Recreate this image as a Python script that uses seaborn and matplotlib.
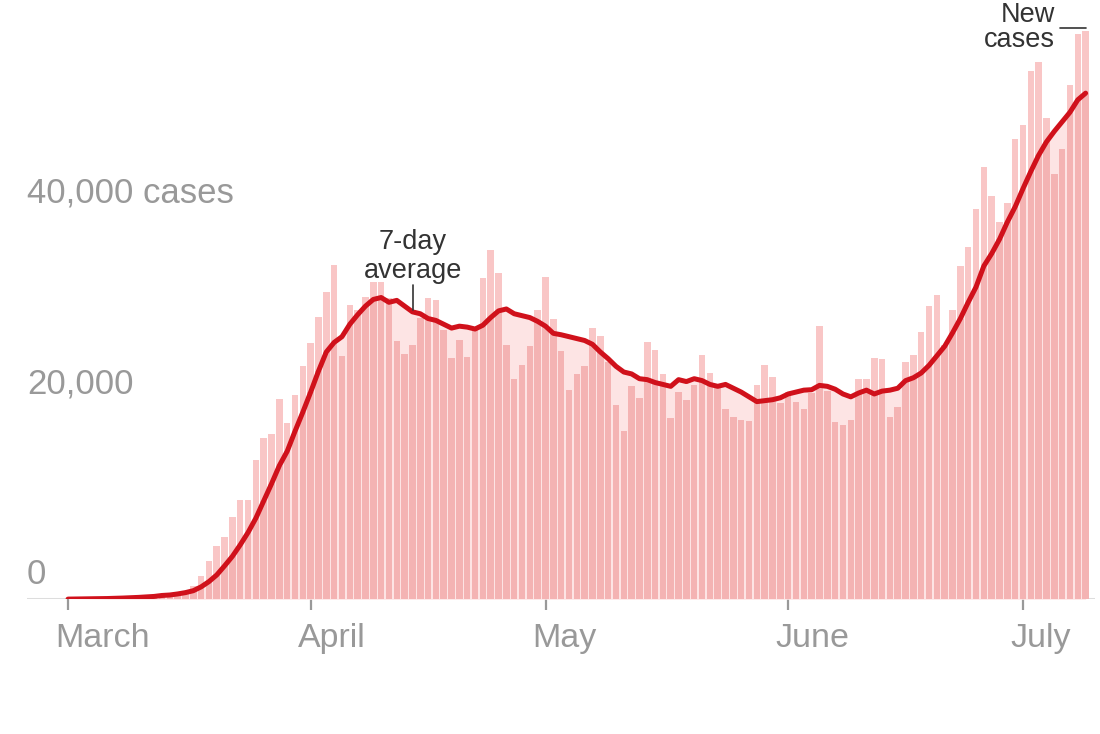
import numpy as np
import pandas as pd
import matplotlib
matplotlib.use("Agg")
import matplotlib.pyplot as plt
import seaborn as sns

# daily new cases (thousands), Mar 1 .. Jul 9 2020
mar_cases = [0.01, 0.02, 0.02, 0.03, 0.05, 0.07, 0.1, 0.12, 0.18, 0.25, 0.35, 0.45, 0.55, 0.65, 0.75, 0.9,
             1.43, 2.48, 4.05, 5.62, 6.53, 8.59, 10.44, 10.44, 14.59, 16.93, 17.28, 20.98, 18.5, 21.4, 24.4]
apr_cases = [26.8, 29.6, 32.2, 35.0, 25.5, 30.8, 30.3, 31.7, 33.2, 33.2,
             31.5, 27.0, 25.7, 26.6, 29.5, 31.5, 31.3, 28.2, 25.3, 27.2,
             25.4, 28.2, 33.6, 36.6, 34.2, 26.6, 23.1, 24.5, 26.5, 30.3]
may_cases = [33.8, 29.4, 26.0, 21.9, 23.6, 24.4, 28.4, 27.6, 24.8, 20.3,
             17.6, 22.3, 21.1, 26.9, 26.1, 23.6, 19.0, 21.7, 20.9, 22.4,
             25.6, 23.7, 22.3, 19.9, 19.1, 18.8, 18.7, 22.4, 24.5, 23.3, 20.6]
jun_cases = [21.7, 20.7, 19.9, 21.6, 28.6, 21.8, 18.6, 18.2, 18.8, 23.1,
             23.1, 25.3, 25.2, 19.1, 20.1, 24.8, 25.6, 28.0, 30.7, 31.9,
             26.6, 30.3, 34.9, 36.9, 40.9, 45.3, 42.2, 39.5, 41.5, 48.2]
jul_cases = [49.7, 55.3, 56.3, 50.4, 44.5, 47.1, 53.9, 59.2, 59.5]

# 7-day average line (thousands)
mar_avg = [0.02, 0.03, 0.04, 0.05, 0.06, 0.08, 0.1, 0.13, 0.16, 0.2, 0.25, 0.3,
           0.4, 0.45, 0.56, 0.7, 0.9, 1.3, 1.85, 2.55, 3.5, 4.5, 5.7, 7.0, 8.5, 10.3, 12.1, 14.0, 15.5,
           17.6, 19.6]
apr_avg = [21.7, 23.9, 25.9, 26.9, 27.5, 28.8, 29.8, 30.7, 31.4, 31.6,
           31.1, 31.3, 30.7, 30.1, 29.9, 29.4, 29.2, 28.8, 28.4, 28.6,
           28.5, 28.3, 28.7, 29.5, 30.2, 30.4, 29.9, 29.7, 29.5, 29.1]
may_avg = [28.6, 27.85, 27.7, 27.5, 27.3, 27.1, 26.7, 25.9, 25.2, 24.4,
           23.8, 23.6, 23.1, 23.0, 22.7, 22.5, 22.3, 23.0, 22.8, 23.1,
           22.9, 22.5, 22.3, 22.5, 22.1, 21.7, 21.2, 20.7, 20.8, 20.9, 21.1]
jun_avg = [21.5, 21.7, 21.9, 21.95, 22.4, 22.3, 22.0, 21.5, 21.2, 21.6,
           21.9, 21.5, 21.8, 21.9, 22.1, 22.9, 23.2, 23.7, 24.5, 25.5,
           26.5, 27.9, 29.4, 31.1, 32.7, 34.9, 36.2, 37.7, 39.5, 41.1]
jul_avg = [43.0, 44.8, 46.5, 47.9, 49.0, 50.0, 51.0, 52.3, 53.0]

month_names = ["March", "April", "May", "June", "July"]
month_starts = [0, 31, 61, 92, 122]   # day offset from Mar 1
y_ticks = [0, 20, 40]
y_labels = ["0", "20,000", "40,000 cases"]

cases = np.array(mar_cases + apr_cases + may_cases + jun_cases + jul_cases)
avg = np.array(mar_avg + apr_avg + may_avg + jun_avg + jul_avg)
df = pd.DataFrame({"day": np.arange(len(cases)), "cases": cases, "avg": avg})
df["below"] = np.minimum(df["cases"], df["avg"])

LINE = "#d0111b"
GRAY = "#999999"
DARK = "#333333"

sns.set_theme(style="white")
plt.rcParams["font.family"] = ["Liberation Sans", "DejaVu Sans"]

fig = plt.figure(figsize=(11, 7.34), dpi=100)
ax = fig.add_axes([27 / 1100, 1 - 599.3 / 734, 1068 / 1100, 579.3 / 734])

# pale area under the average, then the bars, then the part of each bar below the average
ax.fill_between(df["day"], 0, df["avg"], color="#fde4e4", linewidth=0, zorder=1)
bar_kw = dict(native_scale=True, width=0.83, saturation=1, linewidth=0,
              edgecolor="none", errorbar=None, ax=ax, zorder=2)
sns.barplot(data=df, x="day", y="cases", color="#f9c6c6", **bar_kw)
sns.barplot(data=df, x="day", y="below", color="#f4b3b3", **bar_kw)
sns.lineplot(data=df, x="day", y="avg", color=LINE, linewidth=3.6, ax=ax,
             solid_capstyle="round", solid_joinstyle="round", zorder=5)

ax.axhline(0, color="#dddddd", linewidth=2.2, zorder=0.5)
ax.set_xlim(-5.24, 131.2)
ax.set_ylim(0, 60.66)
sns.despine(ax=ax, left=True, bottom=True)
ax.set_xlabel("")
ax.set_ylabel("")
ax.set_yticks([])
ax.set_xticks(month_starts)
ax.tick_params(axis="x", length=8, width=1.6, color=GRAY, direction="out",
               labelbottom=False, bottom=True)

for d, name in zip(month_starts, month_names):
    ax.text(d - 1.65, -0.082, name, transform=ax.get_xaxis_transform(),
            ha="left", va="baseline", fontsize=24.5, color=GRAY)

for v, lab in zip(y_ticks, y_labels):
    ax.text(0, v + 1.57, lab, transform=ax.get_yaxis_transform(),
            ha="left", va="baseline", fontsize=25, color=GRAY)

# annotations
ax.text(44.06, 36.68, "7-day", ha="center", va="baseline", fontsize=19.5, color=DARK)
ax.text(44.06, 33.68, "average", ha="center", va="baseline", fontsize=19.5, color=DARK)
ax.plot([44.06, 44.06], [32.9, 30.3], color=DARK, linewidth=1.2, zorder=6)

ax.text(126.05, 60.5, "New", ha="right", va="baseline", fontsize=19.5, color=DARK)
ax.text(126.05, 57.8, "cases", ha="right", va="baseline", fontsize=19.5, color=DARK)
ax.plot([126.7, 130.1], [59.8, 59.8], color=DARK, linewidth=1.2, zorder=6, clip_on=False)

fig.savefig("out.png", dpi=100)
